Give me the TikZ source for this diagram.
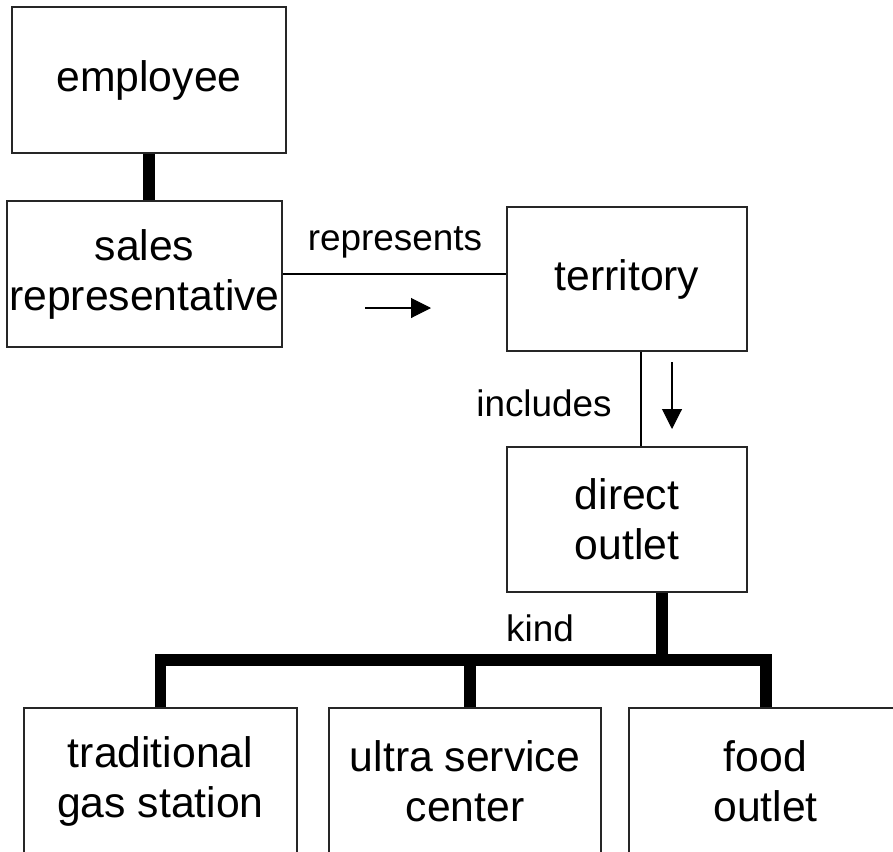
\documentclass[tikz,border=0pt]{standalone}
\usepackage{fontspec}
\setmainfont{Liberation Sans}
\usetikzlibrary{arrows.meta,calc}
\begin{document}
\begin{tikzpicture}[x=0.02cm,y=-0.02cm,
    entity/.style={draw=black!85,line width=0.8pt,align=center,inner sep=0pt,
        minimum width=5.48cm,minimum height=2.92cm,
        font=\fontsize{24.3}{28.5}\selectfont},
    rolename/.style={font=\fontsize{21}{25}\selectfont},
    subtype/.style={line width=6.5pt},
    link/.style={line width=0.6pt},
    readdir/.style={-{Triangle[length=0.4cm,width=0.4cm]},line width=0.6pt}]
                        \useasboundingbox (0,0) rectangle (893,852);
                        \clip (0,0) rectangle (893,852);
                        % entity boxes
                        \node[entity] (employee) at (149,80) {employee};
                        \node[entity,minimum width=5.5cm] (salesrep) at (144.5,274) {sales\\representative};
                        \node[entity,minimum width=4.8cm,minimum height=2.88cm] (territory) at (627,279) {territory};
                        \node[entity,minimum width=4.8cm,minimum height=2.9cm] (outlet) at (627,519.5) {direct\\outlet};
                        \node[entity,minimum width=5.46cm] (gasstation) at (160.5,781) {traditional\\gas station};
                        \node[entity,minimum width=5.44cm] (ultra) at (465,781) {ultra service\\center};
                        \node[entity,minimum width=5.46cm] (food) at (765.5,781) {food\\outlet};
                        % employee -- sales representative
                        \draw[subtype] (employee.south) ++(0,0) -- (employee.south |- salesrep.north);
                        % represents
                        \draw[link] (salesrep.east) -- (salesrep.east -| territory.west);
                        \node[rolename] (represents) at (395,242) {represents};
                        \coordinate (repfrom) at (365,308);
                        \coordinate (repto) at (431,308);
                        \draw[readdir] (repfrom) -- (repto);
                        % includes
                        \coordinate (incl) at ($(territory.south)+(14,0)$);
                        \draw[link] (incl) -- (incl |- outlet.north);
                        \node[rolename] (includes) at (544,403) {includes};
                        \coordinate (incfrom) at (672,362);
                        \coordinate (incto) at (672,429);
                        \draw[readdir] (incfrom) -- (incto);
                        % kinds of direct outlet
                        \coordinate (bar) at (0,660);
                        \coordinate (kindtop) at ($(outlet.south)+(35,0)$);
                        \draw[subtype] (kindtop) -- (kindtop |- bar);
                        \draw[subtype] (gasstation.north) -- (gasstation.north |- bar) -| ($(food.north)+(0.5,0)$);
                        \coordinate (ultratop) at ($(ultra.north)+(5,0)$);
                        \draw[subtype] (ultratop) -- (ultratop |- bar);
                        \node[rolename] (kind) at (540,628) {kind};
\end{tikzpicture}
\end{document}
